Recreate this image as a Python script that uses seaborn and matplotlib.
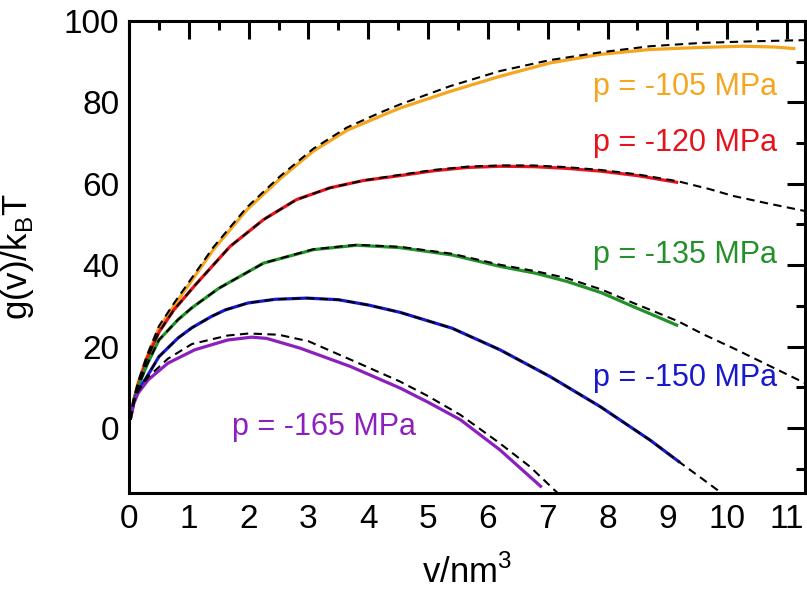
import numpy as np
import pandas as pd
import matplotlib
matplotlib.use("Agg")
import matplotlib.pyplot as plt
from matplotlib.ticker import MultipleLocator
import seaborn as sns

# ---------------- data ----------------
labels = ["p = -105 MPa", "p = -120 MPa", "p = -135 MPa", "p = -150 MPa", "p = -165 MPa"]
colors = ["#F5A61E", "#E5141C", "#23902A", "#1818CC", "#8C20BE"]

v_105 = [0.02, 0.08, 0.15, 0.3, 0.5, 0.75, 1.0, 1.41, 1.97, 2.53, 3.08, 3.64, 4.2, 4.53, 5.37, 6.2, 7.04, 7.88, 8.71, 9.55, 10.27, 10.8, 11.14]
g_105 = [2.0, 7.0, 11.0, 17.5, 24.5, 30.0, 35.2, 43.8, 53.6, 61.3, 68.0, 73.1, 76.6, 78.6, 82.7, 86.4, 89.7, 91.8, 93.0, 93.5, 93.8, 93.6, 93.2]
fv_105 = [0.02, 0.08, 0.15, 0.3, 0.5, 0.75, 1.0, 1.41, 1.97, 2.53, 3.08, 3.64, 4.2, 4.53, 5.37, 6.2, 7.04, 7.88, 8.71, 9.55, 10.4, 11.3]
fg_105 = [2.0, 7.1, 11.2, 17.8, 25.0, 30.6, 35.8, 44.4, 54.2, 61.9, 68.6, 73.8, 77.5, 79.5, 84.0, 87.7, 90.4, 92.3, 93.8, 94.6, 95.0, 95.3]

v_120 = [0.02, 0.08, 0.15, 0.3, 0.5, 0.75, 1.1, 1.69, 2.25, 2.8, 3.36, 3.92, 4.53, 5.1, 5.65, 6.2, 6.76, 7.3, 7.88, 8.5, 9.18]
g_120 = [2.0, 6.8, 10.5, 17.0, 23.5, 29.0, 35.0, 44.6, 51.2, 56.1, 59.0, 60.8, 62.0, 63.2, 64.0, 64.3, 64.2, 63.8, 63.1, 62.0, 60.3]
fv_120 = v_120 + [9.7, 10.1, 10.7, 11.3]
fg_120 = [2.0, 6.8, 10.5, 17.0, 23.5, 29.0, 35.0, 44.6, 51.2, 56.1, 59.0, 60.8, 62.2, 63.4, 64.2, 64.5, 64.5, 64.1, 63.4, 62.3, 60.6, 58.7, 57.0, 55.1, 53.3]

v_135 = [0.02, 0.08, 0.15, 0.3, 0.5, 0.82, 1.05, 1.5, 2.25, 3.08, 3.81, 4.53, 5.4, 6.2, 6.8, 7.32, 7.9, 8.43, 8.8, 9.18]
g_135 = [2.0, 6.6, 10.0, 15.5, 21.6, 26.6, 29.5, 34.3, 40.5, 43.8, 44.9, 44.3, 42.5, 39.7, 38.0, 36.0, 33.2, 29.8, 27.5, 25.1]
fv_135 = v_135 + [9.6, 10.1, 10.7, 11.3]
fg_135 = [2.0, 6.6, 10.0, 15.5, 21.6, 26.6, 29.5, 34.3, 40.5, 43.9, 45.0, 44.5, 42.8, 40.1, 38.5, 36.8, 34.0, 30.7, 28.5, 26.2, 23.0, 19.6, 15.3, 11.0]

v_150 = [0.02, 0.08, 0.15, 0.37, 0.5, 0.82, 1.05, 1.38, 1.61, 1.99, 2.44, 2.97, 3.5, 4.0, 4.53, 5.4, 6.2, 7.04, 7.88, 8.71, 9.21]
g_150 = [2.0, 6.3, 9.0, 14.3, 17.5, 22.1, 24.6, 27.4, 29.0, 30.7, 31.6, 31.9, 31.5, 30.2, 28.4, 24.5, 19.2, 12.6, 5.2, -3.0, -8.5]
fv_150 = v_150 + [9.6, 9.95]
fg_150 = g_150 + [-12.7, -16.5]

v_165 = [0.02, 0.08, 0.15, 0.32, 0.65, 1.1, 1.65, 2.05, 2.3, 2.86, 3.7, 4.53, 5.0, 5.54, 6.2, 6.9]
g_165 = [2.0, 6.0, 8.5, 11.8, 15.9, 19.2, 21.6, 22.3, 22.0, 19.6, 15.1, 9.8, 6.3, 2.0, -5.4, -14.6]
fv_165 = [0.02, 0.08, 0.15, 0.32, 0.65, 1.05, 1.65, 2.0, 2.5, 3.0, 3.7, 4.53, 5.0, 5.54, 6.2, 6.7, 7.2]
fg_165 = [2.0, 6.2, 9.0, 12.5, 17.0, 20.6, 22.7, 23.2, 22.9, 21.3, 16.8, 11.4, 7.8, 3.2, -3.8, -9.5, -16.5]

label_x = [10.84, 10.84, 10.84, 10.84, 1.72]
label_y = [81.9, 68.0, 40.5, 10.2, -1.7]
label_ha = ["right", "right", "right", "right", "left"]

x_ticks = list(range(0, 12))
y_ticks = [0, 20, 40, 60, 80, 100]

data_sets = [(v_105, g_105), (v_120, g_120), (v_135, g_135), (v_150, g_150), (v_165, g_165)]
fit_sets = [(fv_105, fg_105), (fv_120, fg_120), (fv_135, fg_135), (fv_150, fg_150), (fv_165, fg_165)]

# ---------------- plotting ----------------
sns.set_style("white")
plt.rcParams["font.family"] = ["Liberation Sans", "DejaVu Sans"]
plt.rcParams["mathtext.fontset"] = "custom"
plt.rcParams["mathtext.rm"] = "Liberation Sans"
plt.rcParams["text.color"] = "black"
plt.rcParams["axes.labelcolor"] = "black"
plt.rcParams["xtick.color"] = "black"
plt.rcParams["ytick.color"] = "black"

fig = plt.figure(figsize=(8.07, 5.93), dpi=100)
ax = fig.add_axes([129 / 807, 1 - 493 / 593, (805 - 129) / 807, (493 - 21) / 593])

for (v, g), c in zip(data_sets, colors):
    df = pd.DataFrame({"v": v, "g": g})
    sns.lineplot(data=df, x="v", y="g", ax=ax, color=c, lw=2.3, sort=False,
                 estimator=None, solid_capstyle="butt", solid_joinstyle="round", zorder=2)

for (v, g) in fit_sets:
    df = pd.DataFrame({"v": v, "g": g})
    sns.lineplot(data=df, x="v", y="g", ax=ax, color="black", lw=1.5, sort=False,
                 estimator=None, zorder=3, linestyle=(0, (4.0, 2.6)))

for lab, c, x, y, ha in zip(labels, colors, label_x, label_y, label_ha):
    ax.text(x, y, lab, color=c, fontsize=22, ha=ha, va="baseline")

ax.set_xlim(0, 11.3)
ax.set_ylim(-16, 100)
ax.set_xticks(x_ticks)
ax.set_yticks(y_ticks)
ax.xaxis.set_minor_locator(MultipleLocator(0.5))
ax.yaxis.set_minor_locator(MultipleLocator(10))
ax.tick_params(which="both", direction="in", top=True, right=True, width=2.2,
               color="black", labelcolor="black")
ax.tick_params(which="major", length=13, labelsize=24)
ax.tick_params(axis="x", which="major", pad=8)
ax.tick_params(axis="y", which="major", pad=7)
ax.tick_params(which="minor", length=6.5)
for s in ax.spines.values():
    s.set_linewidth(2.2)
    s.set_color("black")

ax.set_xlabel("v/nm$^\\mathregular{3}$", fontsize=25, labelpad=14)
ax.set_ylabel("g(v)/k$_\\mathregular{B}$T", fontsize=25, labelpad=20)

fig.savefig("out.png", dpi=100)
